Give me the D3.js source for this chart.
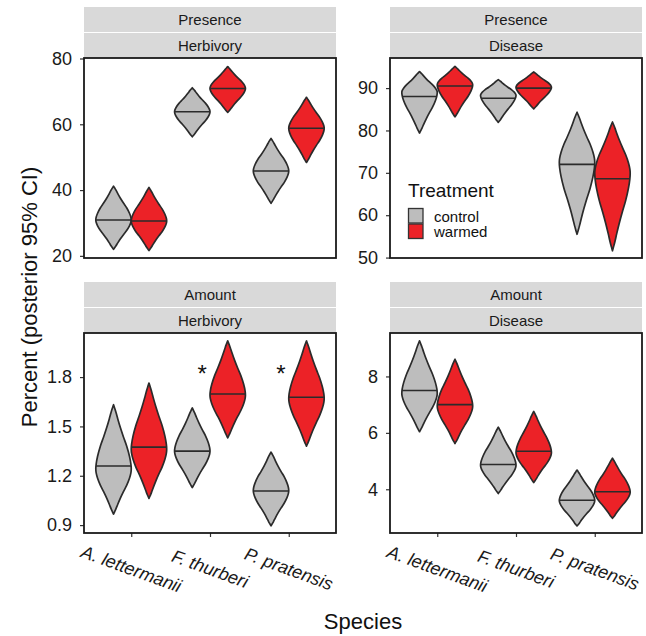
<!DOCTYPE html>
<html>
<head>
<meta charset="utf-8">
<script src="https://cdn.jsdelivr.net/npm/d3@7"></script>
<style>
body { margin: 0; background: #fff; }
text { font-family: "Liberation Sans", Arial, Helvetica, sans-serif; }
</style>
</head>
<body>
<div id="chart"></div>
<script>
// categories
var species = ["A. lettermanii", "F. thurberi", "P. pratensis"];
var treatments = ["control", "warmed"];

// values per violin, order: A-control, A-warmed, F-control, F-warmed, P-control, P-warmed
var presHerbMedian = [30.9, 30.6, 63.8, 70.9, 45.8, 58.8];
var presHerbPeak   = [30.9, 30.6, 63.8, 70.9, 45.8, 58.8];
var presHerbLow    = [22.0, 21.6, 56.2, 63.6, 36.0, 48.4];
var presHerbHigh   = [41.2, 40.8, 71.1, 77.5, 55.7, 68.2];

var presDisMedian = [88.0, 90.5, 87.6, 90.0, 72.0, 68.6];
var presDisPeak   = [89.0, 90.8, 88.3, 90.2, 72.5, 70.0];
var presDisLow    = [79.4, 83.2, 81.9, 85.1, 55.5, 51.6];
var presDisHigh   = [93.9, 95.1, 92.0, 93.8, 84.3, 82.0];

var amtHerbMedian = [1.259, 1.374, 1.350, 1.697, 1.107, 1.677];
var amtHerbPeak   = [1.240, 1.360, 1.350, 1.690, 1.110, 1.670];
var amtHerbLow    = [0.967, 1.062, 1.128, 1.431, 0.896, 1.380];
var amtHerbHigh   = [1.632, 1.764, 1.612, 2.020, 1.344, 2.020];

var amtDisMedian = [7.50, 7.00, 4.88, 5.35, 3.61, 3.91];
var amtDisPeak   = [7.40, 6.95, 4.85, 5.30, 3.60, 3.90];
var amtDisLow    = [6.04, 5.62, 3.85, 4.24, 2.70, 2.97];
var amtDisHigh   = [9.26, 8.61, 6.20, 6.76, 4.68, 5.10];

// significance marks (amount / herbivory panel)
var starSpecies = ["F. thurberi", "P. pratensis"];
var starValue = [1.85, 1.85];

// axis settings
var presHerbDomain = [19.35, 80.15], presHerbTicks = [20, 40, 60, 80];
var presDisDomain = [49.9, 97.1], presDisTicks = [50, 60, 70, 80, 90];
var amtHerbDomain = [0.852, 2.068], amtHerbTicks = [0.9, 1.2, 1.5, 1.8];
var amtDisDomain = [2.45, 9.54], amtDisTicks = [4, 6, 8];

// violin outline, tip (0) to widest point (1)
var shapeT = [0, 0.05, 0.12, 0.22, 0.35, 0.5, 0.64, 0.8, 0.92, 1];
var shapeW = [0, 0.06, 0.14, 0.24, 0.38, 0.56, 0.74, 0.9, 0.98, 1];

var fills = {control: "#bdbdbd", warmed: "#ec2227"};

var width = 646, height = 636;

var svg = d3.select("#chart").append("svg")
    .attr("width", width)
    .attr("height", height);

var panels = [
    {top: "Presence", sub: "Herbivory", x: 84, y: 58, med: presHerbMedian, peak: presHerbPeak, lo: presHerbLow, hi: presHerbHigh, domain: presHerbDomain, ticks: presHerbTicks, fmt: d3.format("d"), xaxis: false},
    {top: "Presence", sub: "Disease", x: 390, y: 58, med: presDisMedian, peak: presDisPeak, lo: presDisLow, hi: presDisHigh, domain: presDisDomain, ticks: presDisTicks, fmt: d3.format("d"), xaxis: false},
    {top: "Amount", sub: "Herbivory", x: 84, y: 333, med: amtHerbMedian, peak: amtHerbPeak, lo: amtHerbLow, hi: amtHerbHigh, domain: amtHerbDomain, ticks: amtHerbTicks, fmt: d3.format(".1f"), xaxis: true, stars: true},
    {top: "Amount", sub: "Disease", x: 390, y: 333, med: amtDisMedian, peak: amtDisPeak, lo: amtDisLow, hi: amtDisHigh, domain: amtDisDomain, ticks: amtDisTicks, fmt: d3.format("d"), xaxis: true}
];

var pw = 252, ph = 200;

panels.forEach(function(p) {

    var g = svg.append("g").attr("transform", "translate(" + p.x + "," + p.y + ")");

    // strips
    g.append("rect").attr("x", 0).attr("y", -51).attr("width", pw).attr("height", 25).attr("fill", "#d9d9d9");
    g.append("rect").attr("x", 0).attr("y", -25).attr("width", pw).attr("height", 25).attr("fill", "#d9d9d9");
    g.append("text").attr("x", pw / 2).attr("y", -38.5).attr("text-anchor", "middle")
        .attr("dominant-baseline", "central").attr("font-size", "15px").attr("fill", "#1a1a1a").text(p.top);
    g.append("text").attr("x", pw / 2).attr("y", -12.5).attr("text-anchor", "middle")
        .attr("dominant-baseline", "central").attr("font-size", "15px").attr("fill", "#1a1a1a").text(p.sub);

    var x = d3.scalePoint().domain(species).range([0, pw]).padding(0.6);
    var dodge = d3.scaleBand().domain(treatments).range([-0.45 * x.step(), 0.45 * x.step()]);
    var y = d3.scaleLinear().domain(p.domain).range([ph, 0]);
    var hw = dodge.bandwidth() / 2;

    // y axis
    var ya = g.append("g").call(d3.axisLeft(y).tickValues(p.ticks).tickSize(4).tickPadding(8).tickFormat(p.fmt));
    ya.select(".domain").remove();
    ya.selectAll("line").attr("stroke", "#333").attr("stroke-width", 1.2);
    ya.selectAll("text").attr("font-size", "18px").attr("fill", "#1a1a1a")
        .attr("font-family", "Liberation Sans, Arial, sans-serif");

    if (p.xaxis) {
        var xa = g.append("g").attr("transform", "translate(0," + ph + ")")
            .call(d3.axisBottom(x).tickSize(4).tickFormat(""));
        xa.select(".domain").remove();
        xa.selectAll("line").attr("stroke", "#333").attr("stroke-width", 1.2);

        g.selectAll(".xlab").data(species).enter().append("text")
            .attr("class", "xlab")
            .attr("transform", function(d) { return "translate(" + x(d) + "," + (ph + 36) + ") rotate(20)"; })
            .attr("text-anchor", "middle")
            .attr("dominant-baseline", "central")
            .attr("font-size", "18px")
            .attr("font-style", "italic")
            .attr("fill", "#1a1a1a")
            .text(function(d) { return d; });
    }

    // violins
    var area = d3.area()
        .y(function(d) { return y(d.v); })
        .x0(function(d) { return d.cx - d.w * hw; })
        .x1(function(d) { return d.cx + d.w * hw; })
        .curve(d3.curveCatmullRom);

    species.forEach(function(s, si) {
        treatments.forEach(function(t, ti) {
            var k = si * 2 + ti;
            var cx = x(s) + dodge(t) + dodge.bandwidth() / 2;
            var lo = p.lo[k], hi = p.hi[k], pk = p.peak[k];
            var pts = [];
            shapeT.forEach(function(f, i) {
                pts.push({v: lo + f * (pk - lo), w: shapeW[i], cx: cx});
            });
            for (var i = shapeT.length - 2; i >= 0; i--) {
                pts.push({v: hi - shapeT[i] * (hi - pk), w: shapeW[i], cx: cx});
            }

            g.append("path")
                .datum(pts)
                .attr("d", area)
                .attr("fill", fills[t])
                .attr("stroke", "#2b2b2b")
                .attr("stroke-width", 1.7)
                .attr("stroke-linejoin", "round");

            var wAt = d3.scaleLinear()
                .domain(pts.map(function(d) { return d.v; }))
                .range(pts.map(function(d) { return d.w; }));
            var mw = wAt(p.med[k]) * hw;
            g.append("line")
                .attr("x1", cx - mw).attr("x2", cx + mw)
                .attr("y1", y(p.med[k])).attr("y2", y(p.med[k]))
                .attr("stroke", "#2b2b2b")
                .attr("stroke-width", 1.6);
        });
    });

    if (p.stars) {
        g.selectAll(".star").data(starSpecies).enter().append("text")
            .attr("class", "star")
            .attr("x", function(d) { return x(d) - 0.1 * x.step(); })
            .attr("y", function(d, i) { return y(starValue[i]); })
            .attr("dy", "0.55em")
            .attr("text-anchor", "middle")
            .attr("font-size", "24px")
            .attr("fill", "#111")
            .text("*");
    }

    // panel border
    g.append("rect").attr("x", 0).attr("y", 0).attr("width", pw).attr("height", ph)
        .attr("fill", "none").attr("stroke", "#1a1a1a").attr("stroke-width", 1.8);
});

// axis titles
svg.append("text")
    .attr("transform", "translate(37,297) rotate(-90)")
    .attr("text-anchor", "middle")
    .attr("font-size", "22px")
    .attr("fill", "#111")
    .text("Percent (posterior 95% CI)");

svg.append("text")
    .attr("x", 363).attr("y", 629)
    .attr("text-anchor", "middle")
    .attr("font-size", "22px")
    .attr("fill", "#111")
    .text("Species");

// legend
var legend = svg.append("g").attr("transform", "translate(408,0)");
legend.append("text").attr("x", 0).attr("y", 197).attr("font-size", "19px").attr("fill", "#111").text("Treatment");
treatments.forEach(function(t, i) {
    legend.append("rect")
        .attr("x", 0.5).attr("y", 208.5 + i * 15.5)
        .attr("width", 14.5).attr("height", 14.5)
        .attr("fill", fills[t]).attr("stroke", "#333").attr("stroke-width", 1.3);
    legend.append("text")
        .attr("x", 26).attr("y", 216 + i * 15.5)
        .attr("dominant-baseline", "central")
        .attr("font-size", "15px").attr("fill", "#111")
        .text(t);
});
</script>
</body>
</html>
